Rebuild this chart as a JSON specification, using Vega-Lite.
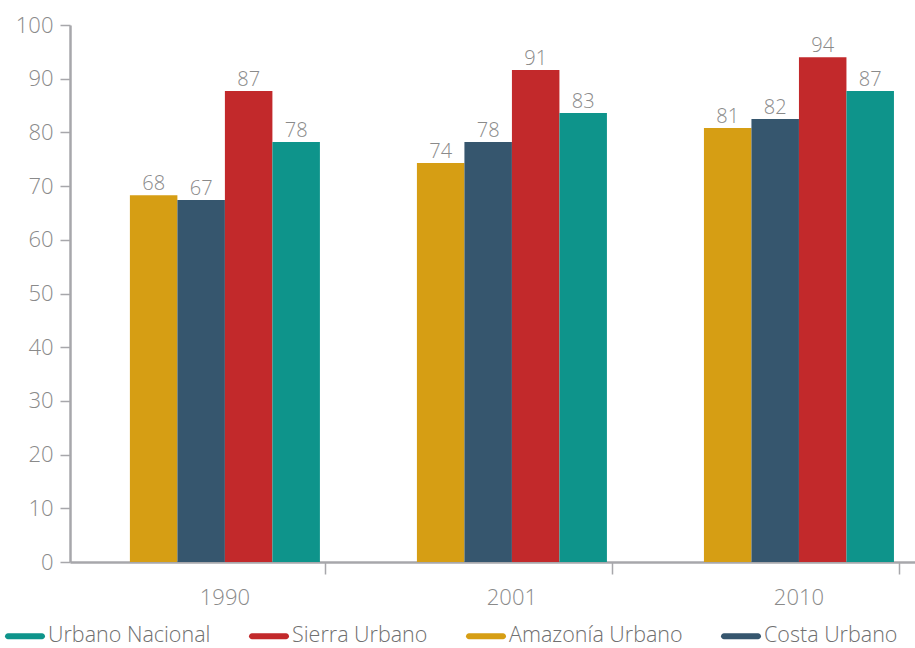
{
  "$schema": "https://vega.github.io/schema/vega-lite/v6.json",
  "autosize": "none",
  "width": 845,
  "height": 537,
  "padding": {"left": 70, "top": 25, "right": 0, "bottom": 86},
  "background": "white",
  "config": {
    "view": {"stroke": null},
    "font": "Open Sans"
  },
  "data": {
    "values": [
      {"year": "1990", "serie": "Amazonía Urbano", "value": 68.3, "label": "68"},
      {"year": "1990", "serie": "Costa Urbano", "value": 67.4, "label": "67"},
      {"year": "1990", "serie": "Sierra Urbano", "value": 87.7, "label": "87"},
      {"year": "1990", "serie": "Urbano Nacional", "value": 78.2, "label": "78"},
      {"year": "2001", "serie": "Amazonía Urbano", "value": 74.3, "label": "74"},
      {"year": "2001", "serie": "Costa Urbano", "value": 78.2, "label": "78"},
      {"year": "2001", "serie": "Sierra Urbano", "value": 91.6, "label": "91"},
      {"year": "2001", "serie": "Urbano Nacional", "value": 83.6, "label": "83"},
      {"year": "2010", "serie": "Amazonía Urbano", "value": 80.8, "label": "81"},
      {"year": "2010", "serie": "Costa Urbano", "value": 82.5, "label": "82"},
      {"year": "2010", "serie": "Sierra Urbano", "value": 94.0, "label": "94"},
      {"year": "2010", "serie": "Urbano Nacional", "value": 87.7, "label": "87"}
    ]
  },
  "encoding": {
    "x": {
      "field": "year", "type": "nominal",
      "scale": {"paddingInner": 0.338, "paddingOuter": 0.141, "align": 0.74},
      "axis": {
        "title": null, "labelAngle": 0, "labelFontSize": 22, "labelColor": "#8a8a8a",
        "labelFontWeight": 300,
        "labelPadding": 13, "domainColor": "#a7a7ab", "domainWidth": 2.5,
        "tickColor": "#a7a7ab", "tickWidth": 1.5, "tickSize": 12, "bandPosition": 1.03,
        "labelFont": "Open Sans"
      }
    },
    "xOffset": {
      "field": "serie", "type": "nominal",
      "scale": {"domain": ["Amazonía Urbano", "Costa Urbano", "Sierra Urbano", "Urbano Nacional"], "paddingInner": 0, "paddingOuter": 0}
    },
    "y": {
      "field": "value", "type": "quantitative",
      "scale": {"domain": [0, 100], "nice": false},
      "axis": {
        "title": null, "values": [0,10,20,30,40,50,60,70,80,90,100], "grid": false,
        "labelFontSize": 22, "labelColor": "#8a8a8a", "labelPadding": 7, "labelFontWeight": 300,
        "domainColor": "#a7a7ab", "domainWidth": 2.5, "tickColor": "#a7a7ab",
        "tickWidth": 1.5, "tickSize": 10, "labelFont": "Open Sans"
      }
    }
  },
  "layer": [
    {
      "mark": {"type": "bar"},
      "encoding": {
        "color": {
          "field": "serie", "type": "nominal",
          "scale": {
            "domain": ["Urbano Nacional", "Sierra Urbano", "Amazonía Urbano", "Costa Urbano"],
            "range": ["#0e948b", "#c2292b", "#d69e14", "#36566e"]
          },
          "legend": {
            "title": null, "orient": "none", "direction": "horizontal",
            "legendX": -65, "legendY": 591, "columns": 4, "columnPadding": 38,
            "symbolType": "M-0.85,-0.15 L0.85,-0.15 A0.15,0.15 0 0 1 0.85,0.15 L-0.85,0.15 A0.15,0.15 0 0 1 -0.85,-0.15 Z",
            "symbolSize": 1600, "symbolStrokeWidth": 0,
            "labelFontSize": 21.5, "labelColor": "#707070", "labelFont": "Open Sans", "labelFontWeight": 300,
            "labelOffset": 3, "labelLimit": 300
          }
        }
      }
    },
    {
      "mark": {"type": "text", "baseline": "bottom", "dy": -1, "fontSize": 20, "fontWeight": 300, "color": "#8a8a8a"},
      "encoding": {"text": {"field": "label"}}
    }
  ]
}
